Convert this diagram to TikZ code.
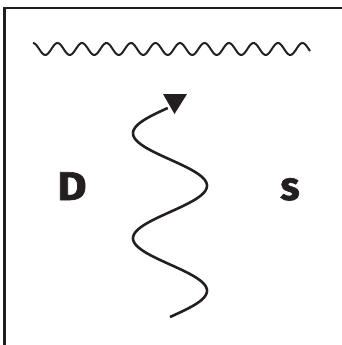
\documentclass[tikz,border=0pt]{standalone}
\usepackage{fontspec}
\setmainfont{Fira Sans}
\newfontfamily\labelfont{Fira Sans}[BoldFeatures={FakeBold=1.6}]
\definecolor{ink}{HTML}{231F20}
\begin{document}
\begin{tikzpicture}[x=1pt,y=-1pt,
  ink line/.style={draw=ink,line width=2.4pt},
  label text/.style={font=\fontsize{40}{40}\labelfont\bfseries,text=ink,inner sep=0pt,anchor=base}]
\useasboundingbox (0,0) rectangle (342,345);
% frame
\draw[draw=ink,line width=2.2pt] (4.5,346) -- (4.5,8) -- (343,8);
% wavy line
\draw[ink line,line width=2pt,smooth,samples=180,domain=33:310,variable=\t]
  plot (\t,{49-6*cos(14.6939*(\t-33))});
% snake path
\coordinate (tail) at (170,317);
\coordinate (head) at (170,107);
\draw[ink line,line width=2.6pt,smooth,samples=120,domain=317:108,variable=\t]
  plot ({170-37*sin(3.42857*(\t-107))},\t);
% arrowhead
\fill[ink] (163,94) -- (187,94) -- (174.5,114) -- cycle;
% labels
\node[label text,xscale=1.12] (D) at (72,200) {D};
\node[label text] (s) at (290,200) {s};
\end{tikzpicture}
\end{document}
